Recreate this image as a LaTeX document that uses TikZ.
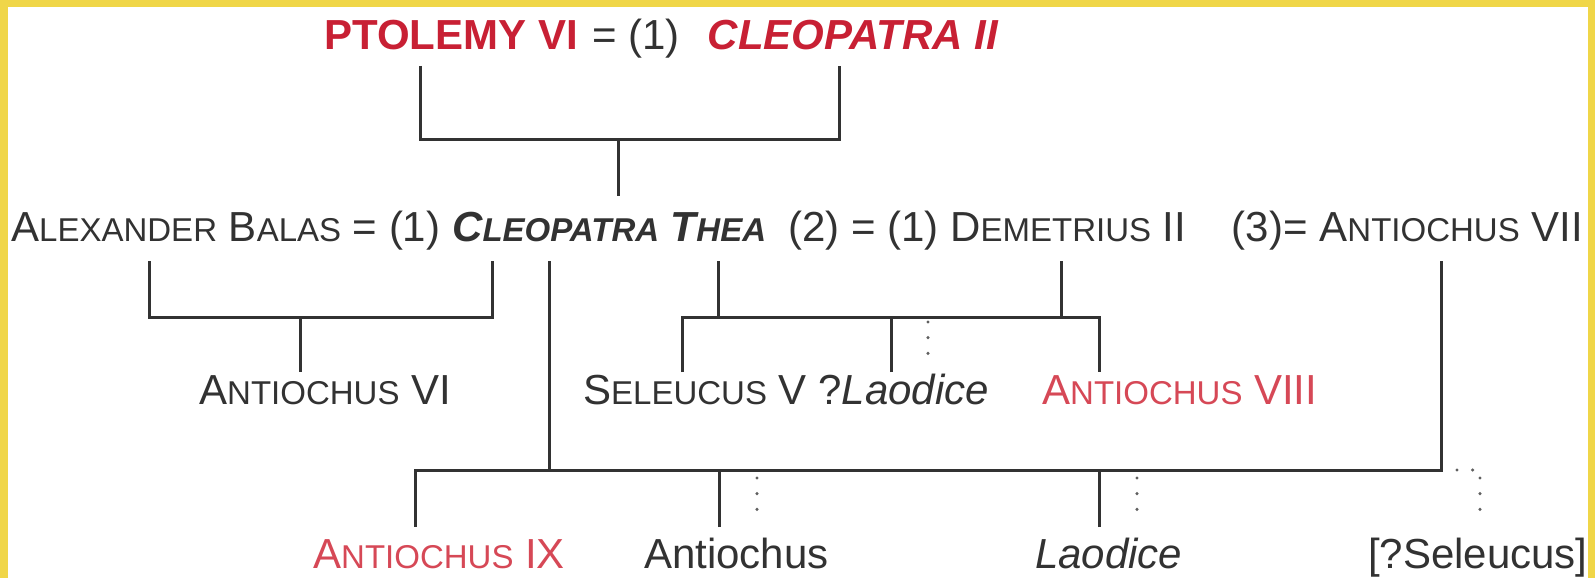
\documentclass[tikz,border=0pt]{standalone}
\usepackage{fontspec}
\setmainfont{Liberation Sans}
\usepackage{xcolor}
\usetikzlibrary{calc}
\definecolor{txtgray}{RGB}{50,50,50}
\definecolor{linegray}{RGB}{50,50,50}
\definecolor{dotgray}{RGB}{95,95,95}
\definecolor{royred}{RGB}{200,32,52}
\definecolor{kinred}{RGB}{214,72,86}
\definecolor{frameyellow}{RGB}{240,214,72}

\begin{document}
\begin{tikzpicture}[x=1pt,y=-1pt,
  person/.style={inner sep=0pt,anchor=base west,text=txtgray,
    font=\fontsize{42}{48}\selectfont},
  kin/.style={draw=linegray,line width=3pt},
  maybe/.style={draw=dotgray,line width=3.4pt,line cap=round,
    dash pattern=on 0pt off 15.67pt}]
  \newcommand{\smc}[2]{#1{\fontsize{33}{36}\selectfont #2}}
  \fill[frameyellow] (0,0) rectangle (1595,578);
  \fill[white] (8,7) rectangle (1588,578);
  \useasboundingbox (0,0) rectangle (1595,578);

  \node[person,text=royred,font=\fontsize{42}{48}\selectfont\bfseries]
    (ptolemy) at (324,49) {PTOLEMY VI};
  \node[person] (wed1) at (592,49) {= (1)};
  \node[person,anchor=base east,text=royred,
    font=\fontsize{42}{48}\selectfont\bfseries\itshape]
    (cleo2) at (998,49) {CLEOPATRA II};

  \node[person] (balas) at (11,241) {\smc{A}{LEXANDER} \smc{B}{ALAS} = (1)};
  \node[person,font=\fontsize{42}{48}\selectfont\bfseries\itshape]
    (thea) at (452,241) {\smc{C}{LEOPATRA} \smc{T}{HEA}};
  \node[person] (demetr) at (788,241) {(2) = (1) \smc{D}{EMETRIUS} II};
  \node[person,anchor=base east] (antvii) at (1583,241) {(3)= \smc{A}{NTIOCHUS} VII};

  \node[person] (antvi) at (199,404) {\smc{A}{NTIOCHUS} VI};
  \node[person] (seleucus) at (583,404) {\smc{S}{ELEUCUS} V ?\textit{Laodice}};
  \node[person,text=kinred] (antviii) at (1042,404) {\smc{A}{NTIOCHUS} VIII};

  \node[person,text=kinred] (antix) at (313,568) {\smc{A}{NTIOCHUS} IX};
  \node[person] (antiochus) at (644,568) {Antiochus};
  \node[person] (laodice) at (1035,568) {\textit{Laodice}};
  \node[person] (seleucus2) at (1368,568) {[?Seleucus]};

  \coordinate (ptolemy-d) at (420,66);
  \coordinate (cleo2-d) at (839,66);
  \coordinate (fam1) at (618,139);
  \coordinate (thea-u) at (618,196);
  \draw[kin] (ptolemy-d) |- (fam1) -| (cleo2-d);
  \draw[kin] (fam1) -- (thea-u);

  \coordinate (balas-d) at (149,261);
  \coordinate (thea-d1) at (492,261);
  \coordinate (fam2) at (300,317);
  \coordinate (antvi-u) at (300,372);
  \draw[kin] (balas-d) |- (fam2) -| (thea-d1);
  \draw[kin] (fam2) -- (antvi-u);

  \coordinate (thea-d2) at (718,261);
  \coordinate (demetr-d) at (1061,261);
  \coordinate (seleucus-u) at (682,372);
  \coordinate (laodice-u) at (891,372);
  \coordinate (antviii-u) at (1099,372);
  \coordinate (fam3) at (1099,317);
  \draw[kin] (seleucus-u) |- (fam3) -- (antviii-u);
  \draw[kin] (thea-d2) -- (thea-d2 |- fam3);
  \draw[kin] (demetr-d) -- (demetr-d |- fam3);
  \draw[kin] (laodice-u) -- (laodice-u |- fam3);
  \draw[maybe] (928,322) -- (928,369);

  \coordinate (thea-d3) at (549,261);
  \coordinate (antvii-d) at (1441,261);
  \coordinate (fam4) at (1441,470);
  \coordinate (antix-u) at (415,527);
  \coordinate (antiochus-u) at (719,527);
  \coordinate (laodice2-u) at (1099,527);
  \draw[kin] (antvii-d) -- (fam4) -| (antix-u);
  \draw[kin] (thea-d3) -- (thea-d3 |- fam4);
  \draw[kin] (antiochus-u) -- (antiochus-u |- fam4);
  \draw[kin] (laodice2-u) -- (laodice2-u |- fam4);
  \draw[maybe] (757,478) -- (757,525);
  \draw[maybe] (1137,478) -- (1137,525);
  \draw[maybe] (1457,470) -- (1473,470);
  \draw[maybe] (1480,478) -- (1480,525);
\end{tikzpicture}
\end{document}
